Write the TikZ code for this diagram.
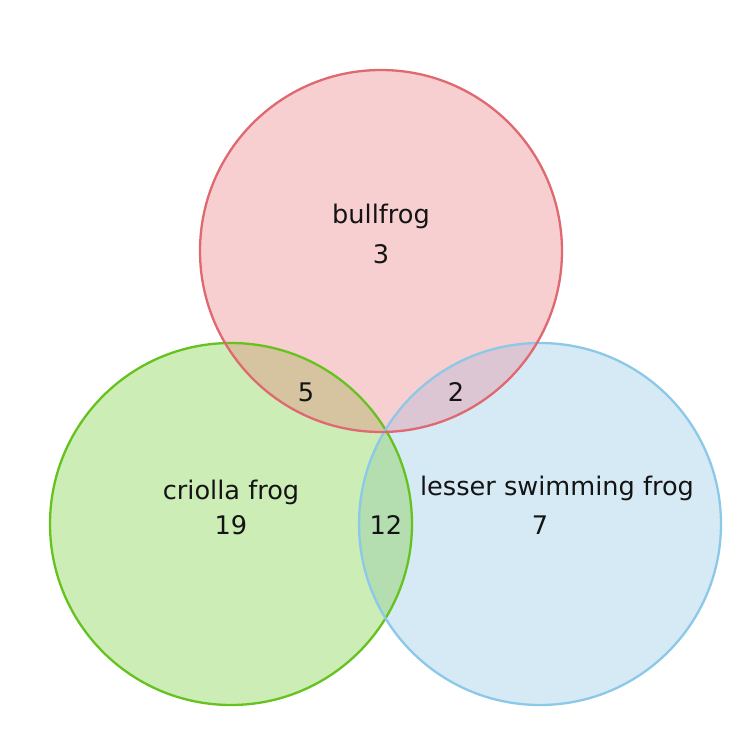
\documentclass[tikz,border=0pt]{standalone}
\usepackage{fontspec}
\setmainfont{DejaVu Sans}
\definecolor{rfill}{RGB}{247,207,209}
\definecolor{gfill}{RGB}{205,237,182}
\definecolor{bfill}{RGB}{214,234,245}
\definecolor{rgfill}{RGB}{214,196,160}
\definecolor{rbfill}{RGB}{220,198,212}
\definecolor{gbfill}{RGB}{180,222,176}
\definecolor{redge}{RGB}{224,104,112}
\definecolor{gedge}{RGB}{102,194,30}
\definecolor{bedge}{RGB}{140,200,232}
\definecolor{txt}{RGB}{20,20,20}
\tikzset{
  lbl/.style={font=\fontsize{25.6}{30}\selectfont, text=txt, inner sep=0pt, anchor=center},
  edge/.style={line width=2.3pt}
}
\begin{document}
\begin{tikzpicture}[x=1pt,y=-1pt]
\useasboundingbox (0,0) rectangle (750,747);
\fill[white] (0,0) rectangle (750,747);
\def\R{181}
\coordinate (cr) at (381,251);
\coordinate (cg) at (231,524);
\coordinate (cb) at (540,524);
% single fills
\fill[rfill] (cr) circle[radius=\R];
\fill[gfill] (cg) circle[radius=\R];
\fill[bfill] (cb) circle[radius=\R];
% pairwise
\begin{scope}
  \clip (cr) circle[radius=\R];
  \fill[rgfill] (cg) circle[radius=\R];
\end{scope}
\begin{scope}
  \clip (cr) circle[radius=\R];
  \fill[rbfill] (cb) circle[radius=\R];
\end{scope}
\begin{scope}
  \clip (cg) circle[radius=\R];
  \fill[gbfill] (cb) circle[radius=\R];
\end{scope}
% outlines
\draw[edge, gedge] (cg) circle[radius=\R];
\draw[edge, bedge] (cb) circle[radius=\R];
\draw[edge, redge] (cr) circle[radius=\R];
% labels
\node[lbl] (nbull) at (381,216) {bullfrog};
\node[lbl] (n3) at (381,254) {3};
\node[lbl] (n5) at (306,392) {5};
\node[lbl] (n2) at (456,392) {2};
\node[lbl] (ncri) at (231,492) {criolla frog};
\node[lbl] (n19) at (231,525) {19};
\node[lbl] (n12) at (386,525) {12};
\node[lbl] (nles) at (557,488) {lesser swimming frog};
\node[lbl] (n7) at (540,525) {7};
\end{tikzpicture}
\end{document}
